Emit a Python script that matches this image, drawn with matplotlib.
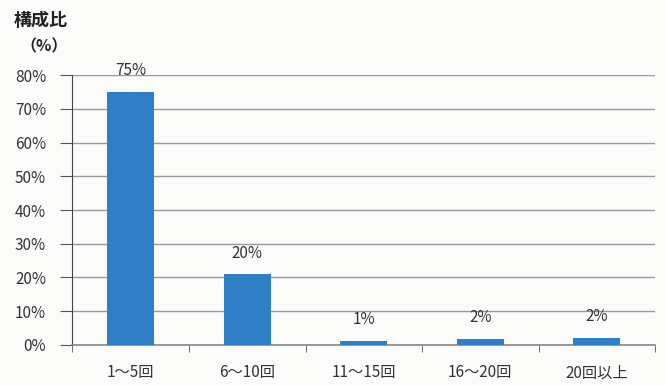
import matplotlib
matplotlib.use("Agg")
import matplotlib.pyplot as plt
import numpy as np

plt.rcParams['font.family'] = ['Noto Sans CJK JP', 'DejaVu Sans']

# data
categories = ["1～5回", "6～10回", "11～15回", "16～20回", "20回以上"]
values = [75, 21, 1.2, 1.8, 2.1]
value_labels = ["75%", "20%", "1%", "2%", "2%"]
y_ticks = [0, 10, 20, 30, 40, 50, 60, 70, 80]

fig = plt.figure(figsize=(6.65, 3.85), dpi=100)
fig.patch.set_facecolor("#fbfbfa")
ax = fig.add_axes([0.109, 0.104, 0.876, 0.701])
ax.set_facecolor("#fbfbfa")

x = np.arange(len(categories))
ax.bar(x, values, width=0.40, color="#2f7fc6", zorder=3)

for xi, v, lab in zip(x, values, value_labels):
    ax.annotate(lab, (xi, v), xytext=(0, 9), textcoords="offset points",
                ha="center", va="bottom", fontsize=11, color="#333333")

ax.set_xlim(-0.5, len(categories) - 0.5)
ax.set_ylim(0, 80)
ax.set_yticks(y_ticks)
ax.set_yticklabels([f"{t}%" for t in y_ticks], fontsize=11, color="#333333")
ax.yaxis.grid(True, color="#9a9a9a", linewidth=1.0, zorder=0)

# category boundary ticks on x axis
ax.set_xticks(x)
ax.set_xticklabels(categories, fontsize=11, color="#333333")
ax.tick_params(axis="x", length=0, pad=14)
ax.set_xticks(np.arange(len(categories) + 1) - 0.5, minor=True)
ax.tick_params(axis="x", which="minor", length=5, color="#555555", direction="out")
ax.tick_params(axis="y", length=9, color="#555555", direction="out", pad=10)

for side in ["top", "right"]:
    ax.spines[side].set_visible(False)
ax.spines["left"].set_color("#444444")
ax.spines["bottom"].set_color("#888888")
ax.spines["bottom"].set_linewidth(1.2)

fig.text(0.020, 0.947, "構成比", fontsize=13, fontweight="bold", color="#222222", va="center")
fig.text(0.030, 0.880, "（%）", fontsize=11.5, fontweight="bold", color="#222222", va="center")

fig.savefig("out.png", dpi=100, facecolor=fig.get_facecolor())
